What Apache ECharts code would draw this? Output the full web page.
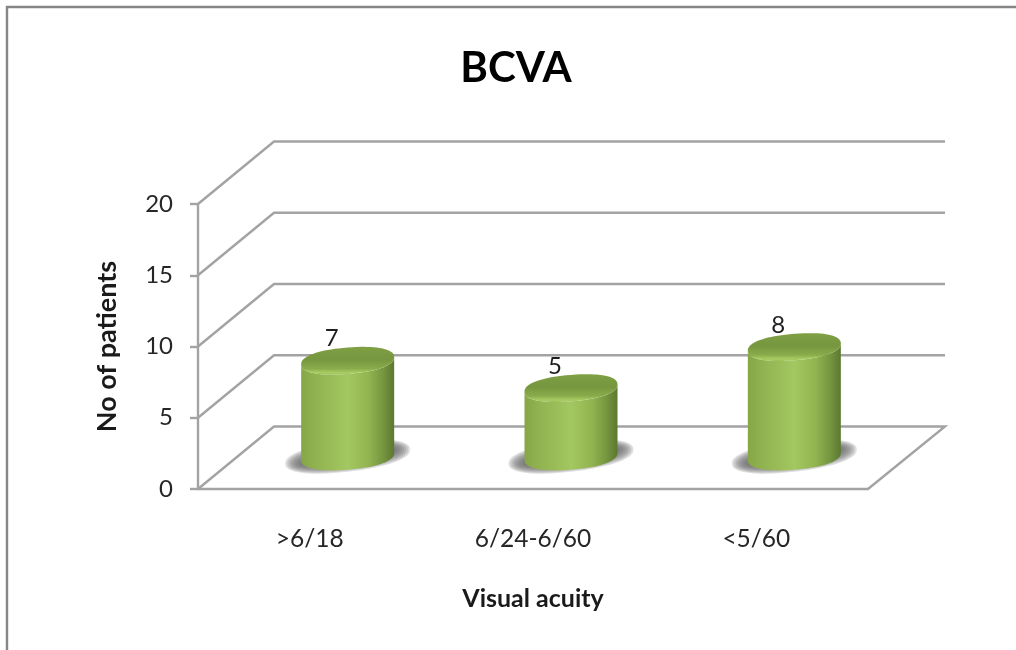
<!DOCTYPE html>
<html>
<head>
<meta charset="utf-8">
<style>html,body{margin:0;padding:0;background:#fff}#chart{width:1016px;height:650px}</style>
<script src="https://cdn.jsdelivr.net/npm/echarts@6/dist/echarts.min.js"></script>
</head>
<body>
<div id="chart"></div>
<script>
const chartTitle = 'BCVA';
const xAxisTitle = 'Visual acuity';
const yAxisTitle = 'No of patients';
const categories = ['>6/18', '6/24-6/60', '<5/60'];
const patients = [7, 5, 8];
const wallTicks = [0, 5, 10, 15, 20];

// Oblique projection of the chart's depth axis
const DEPTH_X = 76;
const DEPTH_Y = -62.5;
const BAR_DEPTH_X = 0.5;
const BAR_DEPTH_Y = 0.52;
const BAR_FORESHORTEN = 0.96;
const BAR_RX = 46.5;
const BAR_RY = 13.2;
const BAR_SKEW = -3.6;
const ROUNDNESS = 0.88;
const LINE = '#a3a3a3';
const FONT = 'Lato, Carlito, "Open Sans", sans-serif';

// Skewed, slightly squared ellipse so the cylinder shoulders stay round
function ellipse(cx, cy, rx, ry, skew, from, to, n) {
  const pts = [];
  const pow = v => Math.sign(v) * Math.pow(Math.abs(v), ROUNDNESS);
  for (let i = 0; i <= n; i++) {
    const t = from + (to - from) * i / n;
    const c = pow(Math.cos(t));
    const s = pow(Math.sin(t));
    pts.push([cx + rx * c, cy + ry * s + skew * c]);
  }
  return pts;
}

// Back wall and side wall grid lines, one per value tick
function renderWall(params, api) {
  const value = api.value(1);
  const y = api.coord([0, value])[1];
  const sys = params.coordSys;
  const left = sys.x;
  const right = sys.x + sys.width;
  const lineStyle = { stroke: LINE, lineWidth: 2.4, fill: null };
  const points = [[left, y], [left + DEPTH_X, y + DEPTH_Y], [right + DEPTH_X + 1, y + DEPTH_Y]];
  if (value === 0) points.push([right, y]);
  return { type: 'polyline', shape: { points }, style: lineStyle, silent: true };
}

// Soft floor shadow built from stacked translucent ellipses
function floorShadow(cx, by) {
  const layers = [];
  for (let i = 0; i < 9; i++) {
    layers.push({
      type: 'polygon',
      shape: { points: ellipse(cx, by, BAR_RX + 16 - i * 2, BAR_RY + 2 - i * 1.2, -7, 0, Math.PI * 2, 60) },
      style: { fill: 'rgba(110,110,110,0.22)' }
    });
  }
  return layers;
}

// Cylinder standing mid-depth on the floor, with its value printed above the cap
function renderCylinder(params, api) {
  const base = api.coord([api.value(0), 0]);
  const top = api.coord([api.value(0), api.value(1)]);
  const cx = base[0] + DEPTH_X * BAR_DEPTH_X;
  const by = base[1] + DEPTH_Y * BAR_DEPTH_Y;
  const ty = by - (base[1] - top[1]) * BAR_FORESHORTEN;
  const body = ellipse(cx, by, BAR_RX, BAR_RY, BAR_SKEW, Math.PI, 0, 40)
    .concat(ellipse(cx, ty, BAR_RX, BAR_RY, BAR_SKEW, 0, Math.PI, 40));
  const cap = ellipse(cx, ty, BAR_RX, BAR_RY, BAR_SKEW, 0, Math.PI * 2, 80);
  return {
    type: 'group',
    silent: true,
    children: floorShadow(cx, by).concat([
      {
        type: 'text',
        style: {
          text: String(api.value(1)), x: cx - 16, y: ty - 22,
          fill: '#1f1f1f', font: '24px ' + FONT, align: 'center', verticalAlign: 'middle'
        }
      },
      {
        type: 'polygon',
        shape: { points: body },
        style: {
          fill: {
            type: 'linear', x: 0, y: 0, x2: 1, y2: 0,
            colorStops: [
              { offset: 0, color: '#86a647' },
              { offset: 0.12, color: '#8fb04e' },
              { offset: 0.5, color: '#a3c761' },
              { offset: 0.72, color: '#93b551' },
              { offset: 0.88, color: '#769640' },
              { offset: 1, color: '#5c7831' }
            ]
          }
        }
      },
      {
        type: 'polygon',
        shape: { points: cap },
        style: {
          fill: {
            type: 'linear', x: 0, y: 0, x2: 0, y2: 1,
            colorStops: [
              { offset: 0, color: '#80a045' },
              { offset: 0.45, color: '#76963f' },
              { offset: 0.78, color: '#8aab4b' },
              { offset: 0.93, color: '#a9cd63' },
              { offset: 1, color: '#9abc56' }
            ]
          }
        }
      }
    ])
  };
}

const chart = echarts.init(document.getElementById('chart'), null, { renderer: 'canvas' });
chart.setOption({
  animation: false,
  backgroundColor: '#ffffff',
  title: {
    text: chartTitle, left: 511, top: 42, textAlign: 'center',
    textStyle: { fontFamily: FONT, fontSize: 42, fontWeight: 'bold', color: '#000000' }
  },
  grid: { left: 198, right: 148, top: 204, bottom: 161 },
  xAxis: {
    type: 'category',
    data: categories,
    name: xAxisTitle,
    nameLocation: 'middle',
    nameGap: 97,
    nameTextStyle: { fontFamily: FONT, fontSize: 25, fontWeight: 'bold', color: '#1a1a1a' },
    axisLine: { lineStyle: { color: LINE, width: 2.4 } },
    axisTick: { show: false },
    axisLabel: { margin: 38, fontFamily: FONT, fontSize: 24.5, color: '#262626' },
    splitLine: { show: false }
  },
  yAxis: {
    type: 'value',
    min: 0,
    max: 20,
    interval: 5,
    name: yAxisTitle,
    nameLocation: 'middle',
    nameGap: 77,
    nameTextStyle: { fontFamily: FONT, fontSize: 27, fontWeight: 'bold', color: '#1a1a1a' },
    axisLine: { show: true, lineStyle: { color: LINE, width: 2.4 } },
    axisTick: { show: true, length: 8, lineStyle: { color: LINE, width: 2.4 } },
    axisLabel: { margin: 25, fontFamily: FONT, fontSize: 24, color: '#262626' },
    splitLine: { show: false }
  },
  graphic: [{
    type: 'polyline',
    silent: true,
    shape: { points: [[7, 650], [7, 7], [1016, 7]] },
    style: { stroke: '#868686', lineWidth: 2.4, fill: null }
  }],
  series: [
    {
      type: 'custom',
      z: 1,
      silent: true,
      renderItem: renderWall,
      encode: { x: 0, y: 1 },
      data: wallTicks.map(v => [0, v])
    },
    {
      type: 'custom',
      z: 3,
      silent: true,
      renderItem: renderCylinder,
      encode: { x: 0, y: 1 },
      data: patients.map((v, i) => [i, v])
    }
  ]
});
</script>
</body>
</html>
